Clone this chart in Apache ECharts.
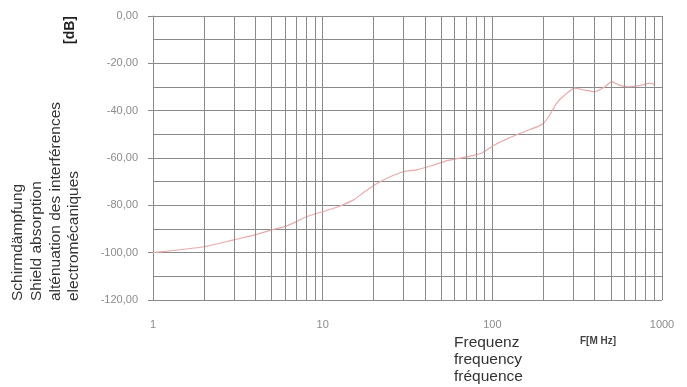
<!DOCTYPE html>
<html>
<head>
<meta charset="utf-8">
<script src="https://cdn.jsdelivr.net/npm/echarts@6/dist/echarts.min.js"></script>
<style>
html,body{margin:0;padding:0;background:#fff;}
#c{width:687px;height:387px;}
</style>
</head>
<body>
<div id="c"></div>
<script>
// Data
var freq = [1, 2, 3, 4, 5, 6, 7, 8, 10, 12.3, 15.2, 17.4, 21, 25, 30, 36, 45, 55, 72, 86, 103, 124, 154, 194, 212, 239, 267, 306, 350, 400, 460, 506, 557, 638, 760, 850, 910];
var atten = [-100, -97.5, -94.6, -92.5, -90.4, -89, -86.9, -84.8, -82.7, -80.6, -77.7, -74.6, -70.7, -67.9, -65.8, -65, -63, -61, -59.4, -58, -54.5, -51.7, -48.9, -46, -43.2, -36.9, -33.4, -30.5, -31.3, -32, -29.9, -27.7, -29.2, -29.9, -29.2, -28.4, -29.2];
var minorFreqGrid = [2,3,4,5,6,7,8,9,20,30,40,50,60,70,80,90,200,300,400,500,600,700,800,900];
var yTitleLines = ["Schirmdämpfung", "Shield absorption", "alténuation des interférences", "electromécaniques"];
var xTitleLines = ["Frequenz", "frequency", "fréquence"];
var unitY = "[dB]";
var unitX = "F[M Hz]";

var pairs = freq.map(function(f, i){ return [f, atten[i]]; });
var gridColor = '#8a8a8a';
var font = '"Liberation Sans", Arial, sans-serif';

var graphics = [];
var yX = [18, 37, 56, 74];
yTitleLines.forEach(function(t, i){
  graphics.push({type:'text', x: yX[i], y: 301, rotation: Math.PI/2,
    style:{text:t, fill:'#333', font:'15.5px ' + font, textAlign:'left', textVerticalAlign:'middle'}});
});
graphics.push({type:'text', x: 70, y: 30, rotation: Math.PI/2,
  style:{text:unitY, fill:'#222', font:'bold 14px ' + font, textAlign:'center', textVerticalAlign:'middle'}});
var xY = [343, 360, 377];
xTitleLines.forEach(function(t, i){
  graphics.push({type:'text', x: 454, y: xY[i],
    style:{text:t, fill:'#333', font:'15.5px ' + font, textAlign:'left', textVerticalAlign:'middle'}});
});
graphics.push({type:'text', x: 580, y: 341,
  style:{text:unitX, fill:'#444', font:'bold 10px ' + font, textAlign:'left', textVerticalAlign:'middle'}});

var chart = echarts.init(document.getElementById('c'), null, {renderer:'canvas'});
chart.setOption({
  animation:false,
  backgroundColor:'#fff',
  grid:{left:153, right:25, top:16, bottom:87, containLabel:false},
  xAxis:{type:'log', logBase:10, min:1, max:1000,
    axisLine:{show:true, lineStyle:{color:gridColor, width:1}},
    axisTick:{show:true, length:4, lineStyle:{color:gridColor}},
    axisLabel:{color:'#8c8c8c', fontSize:11, fontFamily:font, margin:19,
      formatter:function(v){ return String(Math.round(v)); }},
    splitLine:{show:true, lineStyle:{color:gridColor, width:1}},
    minorTick:{show:false}, minorSplitLine:{show:false}
  },
  yAxis:{type:'value', min:-120, max:0, interval:20,
    axisLine:{show:true, lineStyle:{color:gridColor, width:1}},
    axisTick:{show:true, length:5, lineStyle:{color:gridColor}},
    axisLabel:{color:'#8c8c8c', fontSize:11, fontFamily:font, margin:15,
      formatter:function(v){ return v.toFixed(2).replace('.', ','); }},
    splitLine:{show:true, lineStyle:{color:gridColor, width:1}},
    minorTick:{show:false, splitNumber:2},
    minorSplitLine:{show:true, lineStyle:{color:gridColor, width:1}}
  },
  graphic: graphics,
  series:[{
    type:'line', data:pairs, symbol:'none', smooth:0.2,
    lineStyle:{color:'#eaaaaa', width:1.2},
    markLine:{silent:true, symbol:'none', animation:false,
      label:{show:false},
      lineStyle:{color:gridColor, width:1, type:'solid'},
      data: minorFreqGrid.map(function(v){ return {xAxis:v}; })
    },
    z:3
  }]
});
</script>
</body>
</html>
